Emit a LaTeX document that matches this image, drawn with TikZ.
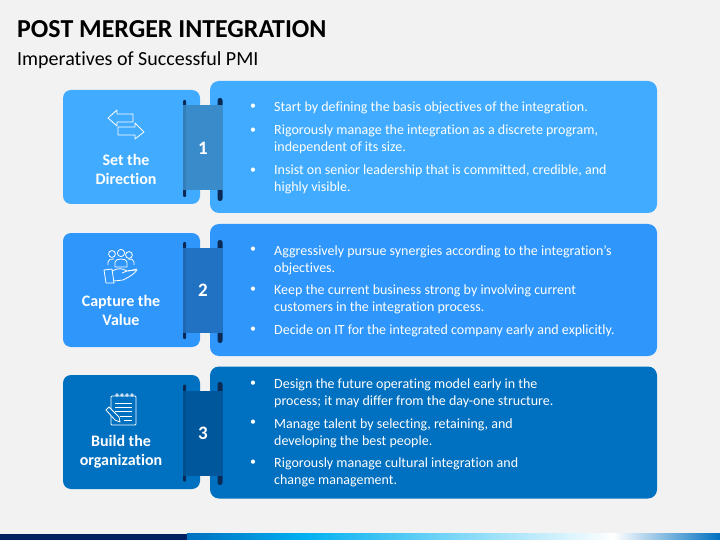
\documentclass[tikz,border=0pt]{standalone}
\usepackage{fontspec}
\setmainfont[Ligatures=NoCommon]{Carlito}
\usepackage{tikz}
\usetikzlibrary{positioning}
\definecolor{pagegray}{HTML}{F2F2F2}
\definecolor{skyone}{HTML}{41ABFF}
\definecolor{skytwo}{HTML}{2F96FB}
\definecolor{skythree}{HTML}{0070C0}
\definecolor{bandone}{HTML}{3A8BC9}
\definecolor{bandtwo}{HTML}{2272C3}
\definecolor{bandthree}{HTML}{00579B}
\definecolor{stripone}{HTML}{337FBA}
\definecolor{striptwo}{HTML}{1E68B3}
\definecolor{stripthree}{HTML}{004F8E}
\definecolor{stick}{HTML}{0A2A55}
\definecolor{navy}{HTML}{002060}
\definecolor{barblue}{HTML}{0070C0}
\definecolor{barsky}{HTML}{00B0F0}
\pgfdeclarehorizontalshading{barshade}{100bp}{color(0bp)=(barblue); color(25bp)=(barblue); color(36bp)=(barsky); color(65bp)=(white); color(75bp)=(barblue); color(100bp)=(barblue)}
\tikzset{
  sidebox/.style={rounded corners=8pt, minimum width=137pt, minimum height=114pt, inner sep=0pt},
  textbox/.style={rounded corners=9pt, minimum width=447pt, minimum height=132pt, inner sep=0pt},
  band/.style={minimum width=40pt, minimum height=85pt, inner sep=0pt, text=white, font=\fontsize{19}{21}\selectfont\bfseries},
  strip/.style={minimum width=3pt, minimum height=85pt, inner sep=0pt},
  stickl/.style={fill=stick, rounded corners=1pt, minimum width=3pt, minimum height=97pt, inner sep=0pt},
  stickr/.style={fill=stick, rounded corners=2.4pt, minimum width=5pt, minimum height=103pt, inner sep=0pt},
  sidelabel/.style={text=white, align=center, inner sep=0pt, font=\fontsize{16}{19}\selectfont\bfseries},
  itemtext/.style={text=white, anchor=west, align=left, inner sep=0pt, font=\fontsize{14}{17}\selectfont},
  itemdot/.style={text=white, inner sep=0pt, font=\fontsize{12}{17}\selectfont},
  icon/.style={draw=white, line width=0.8pt, line join=round}
}
\begin{document}
\begin{tikzpicture}[x=1pt, y=-1pt]
\useasboundingbox (0,0) rectangle (720,540);
\fill[pagegray] (0,0) rectangle (720,540);
% title
\node[anchor=west, inner sep=0pt, font=\fontsize{25.9}{28}\selectfont\bfseries] (title) at (17,29) {POST MERGER INTEGRATION};
\node[anchor=west, inner sep=0pt, font=\fontsize{20}{22}\selectfont] (subtitle) at (17,60) {Imperatives of Successful PMI};
% first row
\node[sidebox, fill=skyone] (s1) at (131.5,147) {};
\node[textbox, fill=skyone] (t1) at (433.5,147) {};
\node[stickl] (sl1) at (184.5,148.5) {};
\node[stickr] (sr1) at (220,149.5) {};
\node[band, fill=bandone] (b1) at (203,148) {1};
\node[strip, fill=stripone] (p1) at (184.5,148) {};
\node[sidelabel] (l1) at (126,169) {Set the\\Direction};
\node[itemdot] (d11) at (253,107) {•};
\node[itemtext] (i11) at (274,108) {Start by defining the basis objectives of the integration.};
\node[itemdot] (d12) at (253,131) {•};
\node[itemtext] (i12) at (274,139.5) {Rigorously manage the integration as a discrete program,\\independent of its size.};
\node[itemdot] (d13) at (253,171) {•};
\node[itemtext] (i13) at (274,179.5) {Insist on senior leadership that is committed, credible, and\\highly visible.};
% second row
\node[sidebox, fill=skytwo] (s2) at (131.5,290) {};
\node[textbox, fill=skytwo] (t2) at (433.5,290) {};
\node[stickl] (sl2) at (184.5,290.5) {};
\node[stickr] (sr2) at (220,291.5) {};
\node[band, fill=bandtwo] (b2) at (203,290.5) {2};
\node[strip, fill=striptwo] (p2) at (184.5,290.5) {};
\node[sidelabel] (l2) at (121,310) {Capture the\\Value};
\node[itemdot] (d21) at (253,250) {•};
\node[itemtext] (i21) at (274,260.5) {Aggressively pursue synergies according to the integration’s\\objectives.};
\node[itemdot] (d22) at (253,290) {•};
\node[itemtext] (i22) at (274,299.5) {Keep the current business strong by involving current\\customers in the integration process.};
\node[itemdot] (d23) at (253,330) {•};
\node[itemtext] (i23) at (274,331) {Decide on IT for the integrated company early and explicitly.};
% third row
\node[sidebox, fill=skythree] (s3) at (131.5,432) {};
\node[textbox, fill=skythree] (t3) at (433.5,432.5) {};
\node[stickl] (sl3) at (184.5,433) {};
\node[stickr] (sr3) at (220,433.5) {};
\node[band, fill=bandthree] (b3) at (203,433) {3};
\node[strip, fill=stripthree] (p3) at (184.5,433) {};
\node[sidelabel] (l3) at (121,452) {Build the\\organization};
\node[itemdot] (d31) at (253,384) {•};
\node[itemtext] (i31) at (274,393.5) {Design the future operating model early in the\\process; it may differ from the day-one structure.};
\node[itemdot] (d32) at (253,423) {•};
\node[itemtext] (i32) at (274,433) {Manage talent by selecting, retaining, and\\developing the best people.};
\node[itemdot] (d33) at (253,463) {•};
\node[itemtext] (i33) at (274,472.5) {Rigorously manage cultural integration and\\change management.};
% arrows icon
\draw[icon] (108,118) -- (117,110) -- (117,114) -- (133,114) -- (133,122) -- (117,122) -- (117,126) -- cycle;
\draw[icon] (144,132) -- (135,123) -- (135,127) -- (118,127) -- (118,135) -- (135,135) -- (135,139) -- cycle;
% people and hand icon
\draw[icon] (112,254) circle (3.4) (129,255) circle (3.4) (121,253) circle (3.6);
\draw[icon] (108,265) -- (108,262) .. controls (108,259) and (111,259) .. (114,259);
\draw[icon] (134,265) -- (134,262) .. controls (134,259) and (131,259) .. (128,259);
\draw[icon] (115,267) -- (115,262) .. controls (115,258) and (127,258) .. (127,262) -- (127,267) -- cycle;
\draw[icon] (104,270) -- (112,269) -- (114,283) -- (106,283) -- cycle;
\draw[icon] (112,271) .. controls (118,268) and (122,268) .. (127,271) -- (136,270) -- (137,270) .. controls (134,274) and (131,276) .. (123,280) -- (114,281);
\draw[icon] (127,271) -- (122,273) (128,271) -- (137,269);
% notepad icon
\draw[icon] (112,396) -- (135,396) -- (136,397) -- (136,424) -- (135,425) -- (112,425) -- (111,424) -- (111,397) -- cycle;
\draw[icon, line width=0.6pt] (117,395) circle (1.4) (122,395) circle (1.4) (127,395) circle (1.4) (132,395) circle (1.4);
\draw[icon] (115,403) -- (132,403) (115,407.5) -- (132,407.5) (115,411.5) -- (132,411.5) (120,416) -- (132,416) (124,420) -- (132,420);
\draw[icon, fill=skythree] (106,410) -- (109,407) -- (119,417) -- (120,422) -- (115,420) -- cycle;
% bottom bar
\fill[navy] (0,533.5) rectangle (187,540);
\shade[shading=barshade] (187,533.5) rectangle (720,540);
\end{tikzpicture}
\end{document}
